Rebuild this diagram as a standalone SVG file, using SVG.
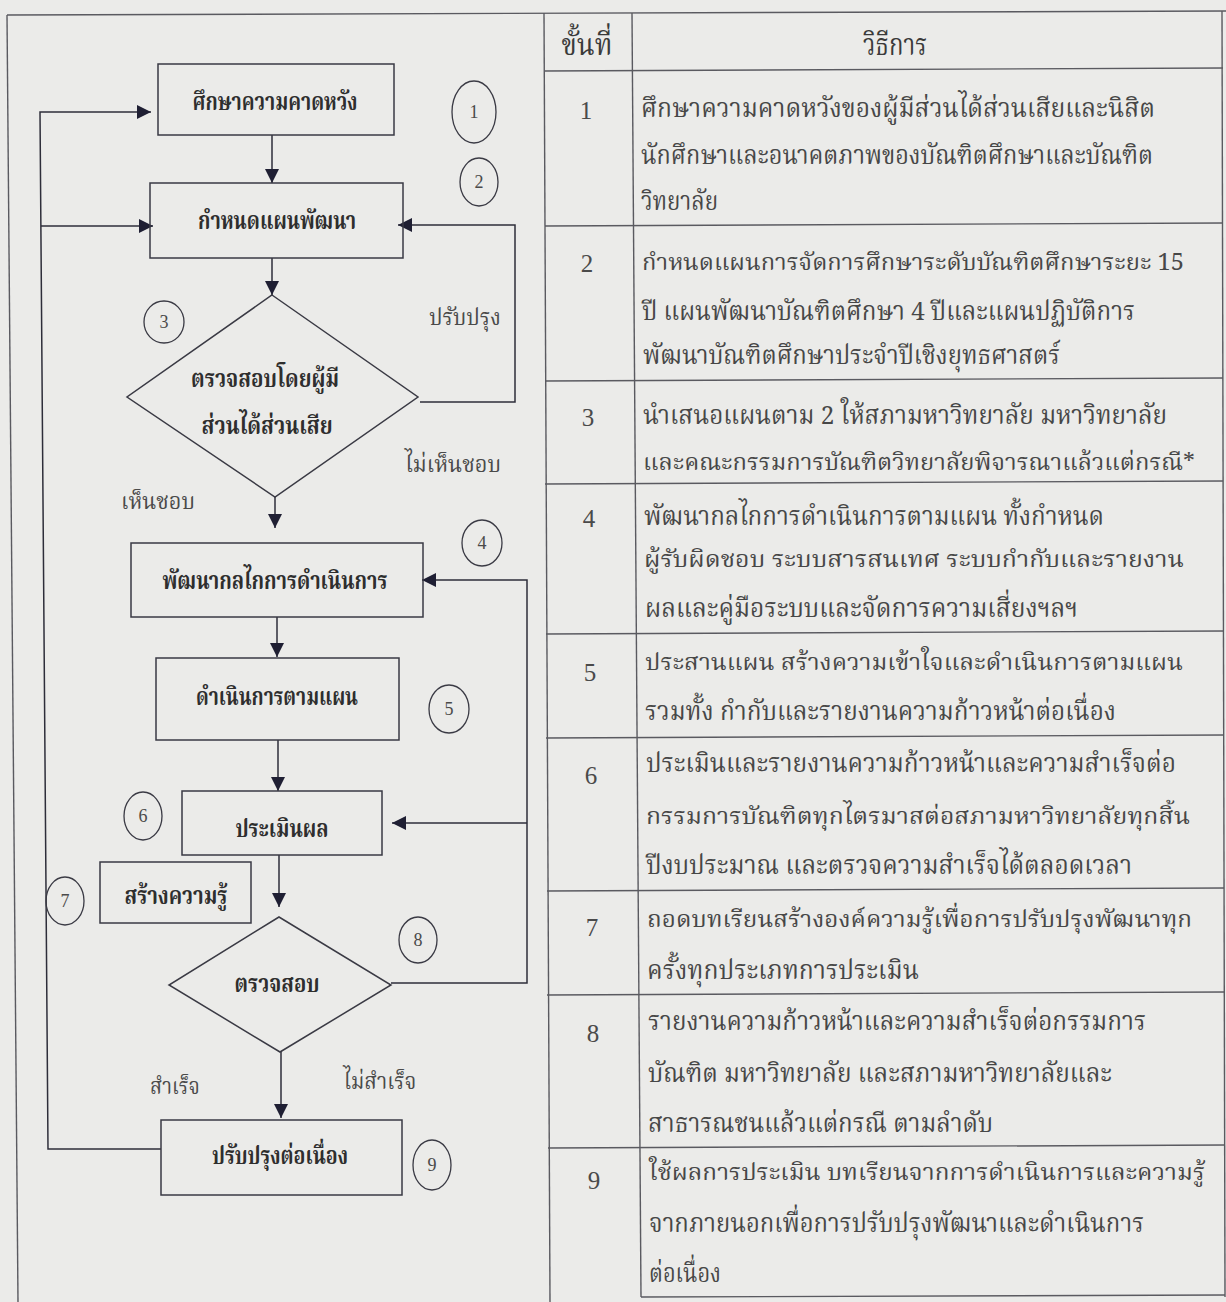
<svg xmlns="http://www.w3.org/2000/svg" width="1226" height="1302" viewBox="0 0 1226 1302">
  <defs>
    <marker id="ah" viewBox="0 0 14 14" refX="14" refY="7" markerWidth="14" markerHeight="14" markerUnits="userSpaceOnUse" orient="auto">
      <path d="M0,0 L14,7 L0,14 z" fill="#1f1f33"/>
    </marker>
    <style>
      .frame { stroke: #5a5a60; stroke-width: 1.4; fill: none; }
      .box { fill: none; stroke: #3a3a44; stroke-width: 1.5; }
      .ring { fill: none; stroke: #3a3a44; stroke-width: 1.3; }
      .arrow { fill: none; stroke: #2e2e3a; stroke-width: 1.5; marker-end: url(#ah); }
      .lbl { font-family: 'Norasi', 'Noto Serif Thai', 'Noto Sans Thai', 'Loma', 'Garuda', 'Liberation Serif', serif; font-size: 24px; font-weight: bold; fill: #2e2e2e; text-anchor: middle; }
      .note { font-family: 'Norasi', 'Noto Serif Thai', 'Noto Sans Thai', 'Loma', 'Garuda', 'Liberation Serif', serif; font-size: 23px; fill: #4a4a4a; text-anchor: middle; }
      .num { font-family: 'Liberation Serif', serif; font-size: 18px; fill: #4a4a4a; text-anchor: middle; }
      .head { font-family: 'Norasi', 'Noto Serif Thai', 'Noto Sans Thai', 'Loma', 'Garuda', 'Liberation Serif', serif; font-size: 30px; fill: #3a3a3a; text-anchor: middle; }
      .step { font-family: 'Liberation Serif', serif; font-size: 25px; fill: #4a4a4a; text-anchor: middle; }
      .txt { font-family: 'Norasi', 'Noto Serif Thai', 'Noto Sans Thai', 'Loma', 'Garuda', 'Liberation Serif', serif; font-size: 26px; fill: #474747; }
      .txt.long { font-size: 23px; }
    </style>
  </defs>

  <!-- paper -->
  <rect x="0" y="0" width="1226" height="1302" fill="#ebebe9"/>

  <!-- outer frame and table grid -->
  <g id="grid">
    <line class="frame" x1="7" y1="15" x2="1226" y2="11"/>
    <line class="frame" x1="7" y1="15" x2="18" y2="1302"/>
    <line class="frame" x1="544" y1="13" x2="550" y2="1302"/>
    <line class="frame" x1="632" y1="13" x2="641" y2="1297"/>
    <line class="frame" x1="1222" y1="11" x2="1225" y2="1297"/>
    <line class="frame" x1="544" y1="71" x2="1223" y2="68"/>
    <line class="frame" x1="545" y1="226" x2="1223" y2="223"/>
    <line class="frame" x1="545" y1="381" x2="1223" y2="378"/>
    <line class="frame" x1="545" y1="484" x2="1223" y2="481"/>
    <line class="frame" x1="546" y1="634" x2="1224" y2="631"/>
    <line class="frame" x1="546" y1="738" x2="1224" y2="735"/>
    <line class="frame" x1="547" y1="891" x2="1224" y2="888"/>
    <line class="frame" x1="547" y1="995" x2="1224" y2="992"/>
    <line class="frame" x1="548" y1="1148" x2="1225" y2="1145"/>
    <line class="frame" x1="641" y1="1297" x2="1225" y2="1295"/>
  </g>

  <!-- table header -->
  <g id="table-head">
    <text class="head" x="587" y="55" textLength="51" lengthAdjust="spacingAndGlyphs">ขั้นที่</text>
    <text class="head" x="895" y="55" textLength="64" lengthAdjust="spacingAndGlyphs">วิธีการ</text>
  </g>

  <!-- table rows -->
  <g id="row-1">
    <text class="step" x="586" y="119">1</text>
    <text class="txt" x="641" y="117" textLength="514" lengthAdjust="spacingAndGlyphs">ศึกษาความคาดหวังของผู้มีส่วนได้ส่วนเสียและนิสิต</text>
    <text class="txt" x="641" y="164" textLength="512" lengthAdjust="spacingAndGlyphs">นักศึกษาและอนาคตภาพของบัณฑิตศึกษาและบัณฑิต</text>
    <text class="txt" x="641" y="210" textLength="77" lengthAdjust="spacingAndGlyphs">วิทยาลัย</text>
  </g>
  <g id="row-2">
    <text class="step" x="587" y="272">2</text>
    <text class="txt long" x="642" y="270" textLength="542" lengthAdjust="spacingAndGlyphs">กำหนดแผนการจัดการศึกษาระดับบัณฑิตศึกษาระยะ 15</text>
    <text class="txt" x="642" y="320" textLength="493" lengthAdjust="spacingAndGlyphs">ปี แผนพัฒนาบัณฑิตศึกษา 4 ปีและแผนปฏิบัติการ</text>
    <text class="txt" x="643" y="364" textLength="417" lengthAdjust="spacingAndGlyphs">พัฒนาบัณฑิตศึกษาประจำปีเชิงยุทธศาสตร์</text>
  </g>
  <g id="row-3">
    <text class="step" x="588" y="426">3</text>
    <text class="txt" x="643" y="424" textLength="524" lengthAdjust="spacingAndGlyphs">นำเสนอแผนตาม 2 ให้สภามหาวิทยาลัย มหาวิทยาลัย</text>
    <text class="txt long" x="643" y="470" textLength="552" lengthAdjust="spacingAndGlyphs">และคณะกรรมการบัณฑิตวิทยาลัยพิจารณาแล้วแต่กรณี*</text>
  </g>
  <g id="row-4">
    <text class="step" x="589" y="527">4</text>
    <text class="txt" x="644" y="525" textLength="460" lengthAdjust="spacingAndGlyphs">พัฒนากลไกการดำเนินการตามแผน ทั้งกำหนด</text>
    <text class="txt long" x="644" y="567" textLength="540" lengthAdjust="spacingAndGlyphs">ผู้รับผิดชอบ ระบบสารสนเทศ ระบบกำกับและรายงาน</text>
    <text class="txt" x="645" y="617" textLength="433" lengthAdjust="spacingAndGlyphs">ผลและคู่มือระบบและจัดการความเสี่ยงฯลฯ</text>
  </g>
  <g id="row-5">
    <text class="step" x="590" y="681">5</text>
    <text class="txt long" x="645" y="670" textLength="538" lengthAdjust="spacingAndGlyphs">ประสานแผน สร้างความเข้าใจและดำเนินการตามแผน</text>
    <text class="txt" x="645" y="720" textLength="471" lengthAdjust="spacingAndGlyphs">รวมทั้ง กำกับและรายงานความก้าวหน้าต่อเนื่อง</text>
  </g>
  <g id="row-6">
    <text class="step" x="591" y="784">6</text>
    <text class="txt" x="646" y="772" textLength="530" lengthAdjust="spacingAndGlyphs">ประเมินและรายงานความก้าวหน้าและความสำเร็จต่อ</text>
    <text class="txt long" x="646" y="824" textLength="544" lengthAdjust="spacingAndGlyphs">กรรมการบัณฑิตทุกไตรมาสต่อสภามหาวิทยาลัยทุกสิ้น</text>
    <text class="txt" x="646" y="874" textLength="486" lengthAdjust="spacingAndGlyphs">ปีงบประมาณ และตรวจความสำเร็จได้ตลอดเวลา</text>
  </g>
  <g id="row-7">
    <text class="step" x="592" y="936">7</text>
    <text class="txt long" x="647" y="927" textLength="545" lengthAdjust="spacingAndGlyphs">ถอดบทเรียนสร้างองค์ความรู้เพื่อการปรับปรุงพัฒนาทุก</text>
    <text class="txt" x="647" y="979" textLength="272" lengthAdjust="spacingAndGlyphs">ครั้งทุกประเภทการประเมิน</text>
  </g>
  <g id="row-8">
    <text class="step" x="593" y="1042">8</text>
    <text class="txt" x="648" y="1030" textLength="498" lengthAdjust="spacingAndGlyphs">รายงานความก้าวหน้าและความสำเร็จต่อกรรมการ</text>
    <text class="txt" x="648" y="1082" textLength="464" lengthAdjust="spacingAndGlyphs">บัณฑิต มหาวิทยาลัย และสภามหาวิทยาลัยและ</text>
    <text class="txt" x="648" y="1132" textLength="345" lengthAdjust="spacingAndGlyphs">สาธารณชนแล้วแต่กรณี ตามลำดับ</text>
  </g>
  <g id="row-9">
    <text class="step" x="594" y="1189">9</text>
    <text class="txt long" x="649" y="1180" textLength="556" lengthAdjust="spacingAndGlyphs">ใช้ผลการประเมิน บทเรียนจากการดำเนินการและความรู้</text>
    <text class="txt" x="649" y="1232" textLength="495" lengthAdjust="spacingAndGlyphs">จากภายนอกเพื่อการปรับปรุงพัฒนาและดำเนินการ</text>
    <text class="txt" x="649" y="1282" textLength="72" lengthAdjust="spacingAndGlyphs">ต่อเนื่อง</text>
  </g>

  <!-- flowchart connectors -->
  <g id="connectors">
    <path class="arrow" d="M272,135 V183"/>
    <path class="arrow" d="M272,258 V295"/>
    <path class="arrow" d="M275,497 V528"/>
    <path class="arrow" d="M277,617 V657"/>
    <path class="arrow" d="M278,740 V791"/>
    <path class="arrow" d="M279,855 V907"/>
    <path class="arrow" d="M281,1052 V1118"/>
    <path class="arrow" d="M420,402 H515 V225 H398"/>
    <path class="arrow" d="M391,983 H527 V580 H422"/>
    <path class="arrow" d="M527,823 H392"/>
    <path class="arrow" d="M161,1149 H48 L40,112 H151"/>
    <path class="arrow" d="M41,226 H153"/>
  </g>

  <!-- flowchart nodes -->
  <g id="n1">
    <rect class="box" x="158" y="64" width="236" height="71"/>
    <text class="lbl" x="275" y="110" textLength="165" lengthAdjust="spacingAndGlyphs">ศึกษาความคาดหวัง</text>
  </g>
  <g id="n2">
    <rect class="box" x="150" y="183" width="253" height="75"/>
    <text class="lbl" x="277" y="229" textLength="158" lengthAdjust="spacingAndGlyphs">กำหนดแผนพัฒนา</text>
  </g>
  <g id="n3">
    <polygon class="box" points="272,295 418,397 275,497 127,397"/>
    <text class="lbl" x="265" y="387" textLength="148" lengthAdjust="spacingAndGlyphs">ตรวจสอบโดยผู้มี</text>
    <text class="lbl" x="267" y="434" textLength="131" lengthAdjust="spacingAndGlyphs">ส่วนได้ส่วนเสีย</text>
  </g>
  <g id="n4">
    <rect class="box" x="131" y="543" width="292" height="74"/>
    <text class="lbl" x="275" y="589" textLength="225" lengthAdjust="spacingAndGlyphs">พัฒนากลไกการดำเนินการ</text>
  </g>
  <g id="n5">
    <rect class="box" x="156" y="658" width="243" height="82"/>
    <text class="lbl" x="277" y="705" textLength="162" lengthAdjust="spacingAndGlyphs">ดำเนินการตามแผน</text>
  </g>
  <g id="n6">
    <rect class="box" x="182" y="791" width="200" height="64"/>
    <text class="lbl" x="282" y="837" textLength="93" lengthAdjust="spacingAndGlyphs">ประเมินผล</text>
  </g>
  <g id="n7">
    <rect class="box" x="100" y="862" width="151" height="61"/>
    <text class="lbl" x="176" y="904" textLength="103" lengthAdjust="spacingAndGlyphs">สร้างความรู้</text>
  </g>
  <g id="n8">
    <polygon class="box" points="279,917 391,985 280,1052 169,985"/>
    <text class="lbl" x="277" y="992" textLength="85" lengthAdjust="spacingAndGlyphs">ตรวจสอบ</text>
  </g>
  <g id="n9">
    <rect class="box" x="161" y="1120" width="241" height="75"/>
    <text class="lbl" x="280" y="1164" textLength="136" lengthAdjust="spacingAndGlyphs">ปรับปรุงต่อเนื่อง</text>
  </g>

  <!-- branch labels -->
  <g id="branch-labels">
    <text class="note" x="465" y="325" textLength="72" lengthAdjust="spacingAndGlyphs">ปรับปรุง</text>
    <text class="note" x="453" y="472" textLength="96" lengthAdjust="spacingAndGlyphs">ไม่เห็นชอบ</text>
    <text class="note" x="158" y="509" textLength="74" lengthAdjust="spacingAndGlyphs">เห็นชอบ</text>
    <text class="note" x="175" y="1094" textLength="50" lengthAdjust="spacingAndGlyphs">สำเร็จ</text>
    <text class="note" x="380" y="1089" textLength="73" lengthAdjust="spacingAndGlyphs">ไม่สำเร็จ</text>
  </g>

  <!-- step markers -->
  <g id="markers">
    <g id="m1"><ellipse class="ring" cx="474" cy="112" rx="22" ry="31"/><text class="num" x="474" y="118">1</text></g>
    <g id="m2"><ellipse class="ring" cx="479" cy="182" rx="19" ry="24"/><text class="num" x="479" y="188">2</text></g>
    <g id="m3"><ellipse class="ring" cx="164" cy="322" rx="20" ry="21"/><text class="num" x="164" y="328">3</text></g>
    <g id="m4"><ellipse class="ring" cx="482" cy="543" rx="20" ry="23"/><text class="num" x="482" y="549">4</text></g>
    <g id="m5"><ellipse class="ring" cx="449" cy="709" rx="20" ry="24"/><text class="num" x="449" y="715">5</text></g>
    <g id="m6"><ellipse class="ring" cx="143" cy="816" rx="19" ry="24"/><text class="num" x="143" y="822">6</text></g>
    <g id="m7"><ellipse class="ring" cx="65" cy="901" rx="19" ry="24"/><text class="num" x="65" y="907">7</text></g>
    <g id="m8"><ellipse class="ring" cx="418" cy="940" rx="19" ry="23"/><text class="num" x="418" y="946">8</text></g>
    <g id="m9"><ellipse class="ring" cx="432" cy="1165" rx="19" ry="25"/><text class="num" x="432" y="1171">9</text></g>
  </g>
</svg>
